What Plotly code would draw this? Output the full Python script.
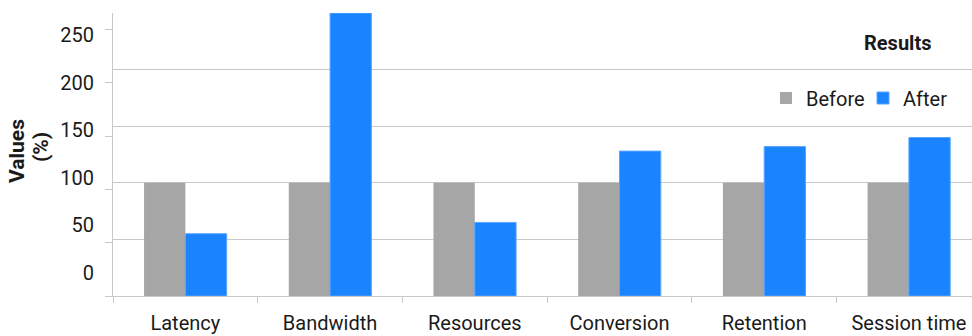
import plotly.graph_objects as go

categories = ["Latency", "Bandwidth", "Resources", "Conversion", "Retention", "Session time"]
before = [100, 100, 100, 100, 100, 100]
after = [55, 250, 65, 128, 132, 140]
tick_values = [0, 50, 100, 150, 200, 250]
tick_labels = ["0", "50", "100", "150", "200", "250"]

FONT = "Roboto"
GRID = "#c8c8c8"
L, R, T, B = 113, 972, 13, 296


def px_x(p):
    return (p - L) / (R - L)


def px_y(p):
    return (B - p) / (B - T)


fig = go.Figure()
fig.add_trace(go.Bar(name="Before", x=categories, y=before, marker=dict(color="#a6a6a6", line=dict(width=0))))
fig.add_trace(go.Bar(name="After", x=categories, y=after, marker=dict(color="#1a84ff", line=dict(color="#5aa5ff", width=1))))
# invisible helpers so the overlaying tick-mark and tick-label axes get drawn
for ax in ("y2", "y3"):
    fig.add_trace(go.Scatter(x=categories, y=tick_values, yaxis=ax, mode="markers",
                             marker=dict(opacity=0), showlegend=False, hoverinfo="skip"))

fig.update_layout(
    width=972, height=336,
    margin=dict(l=L, r=0, t=T, b=336 - B),
    paper_bgcolor="white", plot_bgcolor="white",
    font=dict(family=FONT, size=20, color="#1a1a1a"),
    barmode="group", bargap=0.429, bargroupgap=0,
    xaxis=dict(
        range=[-0.5, 5.436], showgrid=False, showline=True, linecolor=GRID, linewidth=1,
        ticks="outside", tickson="boundaries", ticklen=6, tickcolor=GRID,
        tickfont=dict(size=20), ticklabelstandoff=9,
    ),
    yaxis=dict(
        range=[0, 250], tickvals=tick_values, showgrid=True, gridcolor=GRID, gridwidth=1,
        showticklabels=False, ticks="", showline=True, linecolor=GRID, zeroline=False,
    ),
    yaxis2=dict(
        overlaying="y", side="left", range=[0, 265.6], tickvals=tick_values,
        showticklabels=False, ticks="outside", ticklen=7, tickcolor=GRID,
        showgrid=False, showline=False, zeroline=False,
    ),
    yaxis3=dict(
        overlaying="y", side="left", range=[-24.2, 273.4], tickvals=tick_values, ticktext=tick_labels,
        ticks="outside", ticklen=14, tickcolor="rgba(0,0,0,0)", tickfont=dict(size=20),
        showgrid=False, showline=False, zeroline=False,
    ),
    legend=dict(
        orientation="h", x=px_x(766), xanchor="left", y=px_y(98), yanchor="middle",
        font=dict(size=20), bgcolor="rgba(0,0,0,0)", itemwidth=30,
        entrywidth=52, entrywidthmode="pixels",
    ),
    annotations=[
        dict(text="<b>Results</b>", xref="paper", yref="paper", x=px_x(897), y=px_y(43),
             xanchor="center", yanchor="middle", showarrow=False, font=dict(size=20)),
        dict(text="<b>Values</b>", xref="paper", yref="paper", x=px_x(17), y=px_y(151),
             xanchor="center", yanchor="middle", textangle=-90, showarrow=False, font=dict(size=21)),
        dict(text="<b>(%)</b>", xref="paper", yref="paper", x=px_x(41), y=px_y(147),
             xanchor="center", yanchor="middle", textangle=-90, showarrow=False, font=dict(size=21)),
    ],
)

fig.write_html("out.html")
